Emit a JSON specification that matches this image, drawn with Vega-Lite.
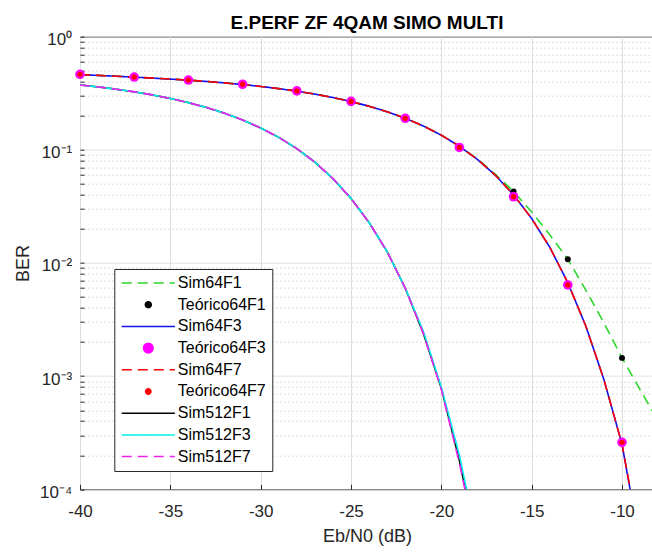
{
  "$schema": "https://vega.github.io/schema/vega-lite/v6.json",
  "autosize": {"type": "none"},
  "padding": {"left": 80, "top": 36.7, "right": 0, "bottom": 64},
  "width": 574,
  "height": 452.6,
  "title": {"text": "E.PERF ZF 4QAM SIMO MULTI", "fontSize": 19, "fontWeight": "bold", "font": "Liberation Sans", "color": "#000000", "anchor": "middle", "frame": "group", "baseline": "alphabetic", "offset": -17},
  "config": {
    "view": {"stroke": "#262626", "strokeWidth": 1},
    "legend": {"padding": 6, "fillColor": "#ffffff", "strokeColor": "#262626", "strokeWidth": 1, "rowPadding": 5.7, "labelFontSize": 16, "labelFont": "Liberation Sans", "labelColor": "#000000", "labelLimit": 0, "symbolOffset": 20, "labelOffset": 21.5, "symbolStrokeWidth": 1.5, "cornerRadius": 0}
  },
  "datasets": {
    "sims": [
      {"s": "Sim64F1", "x": -40, "y": 0.462}, {"s": "Sim64F1", "x": -39, "y": 0.455}, {"s": "Sim64F1", "x": -38, "y": 0.447}, {"s": "Sim64F1", "x": -37, "y": 0.439}, {"s": "Sim64F1", "x": -36, "y": 0.4305}, {"s": "Sim64F1", "x": -35, "y": 0.4221}, {"s": "Sim64F1", "x": -34, "y": 0.4128}, {"s": "Sim64F1", "x": -33, "y": 0.4023}, {"s": "Sim64F1", "x": -32, "y": 0.3907}, {"s": "Sim64F1", "x": -31, "y": 0.3778}, {"s": "Sim64F1", "x": -30, "y": 0.3634}, {"s": "Sim64F1", "x": -29, "y": 0.3476}, {"s": "Sim64F1", "x": -28, "y": 0.3301}, {"s": "Sim64F1", "x": -27, "y": 0.3109}, {"s": "Sim64F1", "x": -26, "y": 0.2899}, {"s": "Sim64F1", "x": -25, "y": 0.2673}, {"s": "Sim64F1", "x": -24, "y": 0.243}, {"s": "Sim64F1", "x": -23, "y": 0.2171}, {"s": "Sim64F1", "x": -22, "y": 0.1901}, {"s": "Sim64F1", "x": -21, "y": 0.1625}, {"s": "Sim64F1", "x": -20, "y": 0.1347}, {"s": "Sim64F1", "x": -19, "y": 0.1078}, {"s": "Sim64F1", "x": -18, "y": 0.083}, {"s": "Sim64F1", "x": -17, "y": 0.0606}, {"s": "Sim64F1", "x": -16, "y": 0.0429}, {"s": "Sim64F1", "x": -15, "y": 0.0282}, {"s": "Sim64F1", "x": -14, "y": 0.0178}, {"s": "Sim64F1", "x": -13, "y": 0.0108}, {"s": "Sim64F1", "x": -12, "y": 0.00575}, {"s": "Sim64F1", "x": -11, "y": 0.00295}, {"s": "Sim64F1", "x": -10, "y": 0.00145}, {"s": "Sim64F1", "x": -9, "y": 0.00076}, {"s": "Sim64F1", "x": -8, "y": 0.0004},
      {"s": "Sim64F3", "x": -40, "y": 0.462}, {"s": "Sim64F3", "x": -39, "y": 0.455}, {"s": "Sim64F3", "x": -38, "y": 0.447}, {"s": "Sim64F3", "x": -37, "y": 0.439}, {"s": "Sim64F3", "x": -36, "y": 0.4305}, {"s": "Sim64F3", "x": -35, "y": 0.4221}, {"s": "Sim64F3", "x": -34, "y": 0.4128}, {"s": "Sim64F3", "x": -33, "y": 0.4023}, {"s": "Sim64F3", "x": -32, "y": 0.3907}, {"s": "Sim64F3", "x": -31, "y": 0.3778}, {"s": "Sim64F3", "x": -30, "y": 0.3634}, {"s": "Sim64F3", "x": -29, "y": 0.3476}, {"s": "Sim64F3", "x": -28, "y": 0.3301}, {"s": "Sim64F3", "x": -27, "y": 0.3109}, {"s": "Sim64F3", "x": -26, "y": 0.2899}, {"s": "Sim64F3", "x": -25, "y": 0.2673}, {"s": "Sim64F3", "x": -24, "y": 0.243}, {"s": "Sim64F3", "x": -23, "y": 0.2171}, {"s": "Sim64F3", "x": -22, "y": 0.1901}, {"s": "Sim64F3", "x": -21, "y": 0.1625}, {"s": "Sim64F3", "x": -20, "y": 0.1347}, {"s": "Sim64F3", "x": -19, "y": 0.1076}, {"s": "Sim64F3", "x": -18, "y": 0.0822}, {"s": "Sim64F3", "x": -17, "y": 0.0594}, {"s": "Sim64F3", "x": -16, "y": 0.04}, {"s": "Sim64F3", "x": -15, "y": 0.0247}, {"s": "Sim64F3", "x": -14, "y": 0.0138}, {"s": "Sim64F3", "x": -13, "y": 0.0067}, {"s": "Sim64F3", "x": -12, "y": 0.00276}, {"s": "Sim64F3", "x": -11, "y": 0.00093}, {"s": "Sim64F3", "x": -10, "y": 0.00025}, {"s": "Sim64F3", "x": -9, "y": 0.000032},
      {"s": "Sim64F7", "x": -40, "y": 0.462}, {"s": "Sim64F7", "x": -39, "y": 0.455}, {"s": "Sim64F7", "x": -38, "y": 0.447}, {"s": "Sim64F7", "x": -37, "y": 0.439}, {"s": "Sim64F7", "x": -36, "y": 0.4305}, {"s": "Sim64F7", "x": -35, "y": 0.4221}, {"s": "Sim64F7", "x": -34, "y": 0.4128}, {"s": "Sim64F7", "x": -33, "y": 0.4023}, {"s": "Sim64F7", "x": -32, "y": 0.3907}, {"s": "Sim64F7", "x": -31, "y": 0.3778}, {"s": "Sim64F7", "x": -30, "y": 0.3634}, {"s": "Sim64F7", "x": -29, "y": 0.3476}, {"s": "Sim64F7", "x": -28, "y": 0.3301}, {"s": "Sim64F7", "x": -27, "y": 0.3109}, {"s": "Sim64F7", "x": -26, "y": 0.2899}, {"s": "Sim64F7", "x": -25, "y": 0.2673}, {"s": "Sim64F7", "x": -24, "y": 0.243}, {"s": "Sim64F7", "x": -23, "y": 0.2171}, {"s": "Sim64F7", "x": -22, "y": 0.1901}, {"s": "Sim64F7", "x": -21, "y": 0.1625}, {"s": "Sim64F7", "x": -20, "y": 0.1347}, {"s": "Sim64F7", "x": -19, "y": 0.1076}, {"s": "Sim64F7", "x": -18, "y": 0.0822}, {"s": "Sim64F7", "x": -17, "y": 0.0594}, {"s": "Sim64F7", "x": -16, "y": 0.04}, {"s": "Sim64F7", "x": -15, "y": 0.0247}, {"s": "Sim64F7", "x": -14, "y": 0.0138}, {"s": "Sim64F7", "x": -13, "y": 0.0067}, {"s": "Sim64F7", "x": -12, "y": 0.00276}, {"s": "Sim64F7", "x": -11, "y": 0.00093}, {"s": "Sim64F7", "x": -10, "y": 0.00025}, {"s": "Sim64F7", "x": -9, "y": 0.000034},
      {"s": "Sim512F1", "x": -40, "y": 0.3745}, {"s": "Sim512F1", "x": -39, "y": 0.3598}, {"s": "Sim512F1", "x": -38, "y": 0.3435}, {"s": "Sim512F1", "x": -37, "y": 0.3256}, {"s": "Sim512F1", "x": -36, "y": 0.306}, {"s": "Sim512F1", "x": -35, "y": 0.2847}, {"s": "Sim512F1", "x": -34, "y": 0.2616}, {"s": "Sim512F1", "x": -33, "y": 0.2369}, {"s": "Sim512F1", "x": -32, "y": 0.2108}, {"s": "Sim512F1", "x": -31, "y": 0.1836}, {"s": "Sim512F1", "x": -30, "y": 0.156}, {"s": "Sim512F1", "x": -29, "y": 0.129}, {"s": "Sim512F1", "x": -28, "y": 0.1025}, {"s": "Sim512F1", "x": -27, "y": 0.0778}, {"s": "Sim512F1", "x": -26, "y": 0.0557}, {"s": "Sim512F1", "x": -25, "y": 0.0372}, {"s": "Sim512F1", "x": -24, "y": 0.0228}, {"s": "Sim512F1", "x": -23, "y": 0.0126}, {"s": "Sim512F1", "x": -22, "y": 0.006}, {"s": "Sim512F1", "x": -21, "y": 0.0024}, {"s": "Sim512F1", "x": -20, "y": 0.00078}, {"s": "Sim512F1", "x": -19, "y": 0.00018}, {"s": "Sim512F1", "x": -18, "y": 0.00003},
      {"s": "Sim512F3", "x": -40, "y": 0.3745}, {"s": "Sim512F3", "x": -39, "y": 0.3598}, {"s": "Sim512F3", "x": -38, "y": 0.3435}, {"s": "Sim512F3", "x": -37, "y": 0.3256}, {"s": "Sim512F3", "x": -36, "y": 0.306}, {"s": "Sim512F3", "x": -35, "y": 0.2847}, {"s": "Sim512F3", "x": -34, "y": 0.2616}, {"s": "Sim512F3", "x": -33, "y": 0.2369}, {"s": "Sim512F3", "x": -32, "y": 0.2108}, {"s": "Sim512F3", "x": -31, "y": 0.1836}, {"s": "Sim512F3", "x": -30, "y": 0.156}, {"s": "Sim512F3", "x": -29, "y": 0.129}, {"s": "Sim512F3", "x": -28, "y": 0.1025}, {"s": "Sim512F3", "x": -27, "y": 0.0778}, {"s": "Sim512F3", "x": -26, "y": 0.0557}, {"s": "Sim512F3", "x": -25, "y": 0.0372}, {"s": "Sim512F3", "x": -24, "y": 0.0228}, {"s": "Sim512F3", "x": -23, "y": 0.0126}, {"s": "Sim512F3", "x": -22, "y": 0.006}, {"s": "Sim512F3", "x": -21, "y": 0.0025}, {"s": "Sim512F3", "x": -20, "y": 0.0008}, {"s": "Sim512F3", "x": -19, "y": 0.0002}, {"s": "Sim512F3", "x": -18, "y": 0.000035},
      {"s": "Sim512F7", "x": -40, "y": 0.3745}, {"s": "Sim512F7", "x": -39, "y": 0.3598}, {"s": "Sim512F7", "x": -38, "y": 0.3435}, {"s": "Sim512F7", "x": -37, "y": 0.3256}, {"s": "Sim512F7", "x": -36, "y": 0.306}, {"s": "Sim512F7", "x": -35, "y": 0.2847}, {"s": "Sim512F7", "x": -34, "y": 0.2616}, {"s": "Sim512F7", "x": -33, "y": 0.2369}, {"s": "Sim512F7", "x": -32, "y": 0.2108}, {"s": "Sim512F7", "x": -31, "y": 0.1836}, {"s": "Sim512F7", "x": -30, "y": 0.156}, {"s": "Sim512F7", "x": -29, "y": 0.129}, {"s": "Sim512F7", "x": -28, "y": 0.1025}, {"s": "Sim512F7", "x": -27, "y": 0.0778}, {"s": "Sim512F7", "x": -26, "y": 0.0557}, {"s": "Sim512F7", "x": -25, "y": 0.0372}, {"s": "Sim512F7", "x": -24, "y": 0.0228}, {"s": "Sim512F7", "x": -23, "y": 0.0126}, {"s": "Sim512F7", "x": -22, "y": 0.006}, {"s": "Sim512F7", "x": -21, "y": 0.0024}, {"s": "Sim512F7", "x": -20, "y": 0.00076}, {"s": "Sim512F7", "x": -19, "y": 0.00017}, {"s": "Sim512F7", "x": -18, "y": 0.00003}
    ],
    "teo": [
      {"s": "Teórico64F1", "x": -40, "y": 0.465}, {"s": "Teórico64F1", "x": -37, "y": 0.44}, {"s": "Teórico64F1", "x": -34, "y": 0.414}, {"s": "Teórico64F1", "x": -31, "y": 0.38}, {"s": "Teórico64F1", "x": -28, "y": 0.332}, {"s": "Teórico64F1", "x": -25, "y": 0.268}, {"s": "Teórico64F1", "x": -22, "y": 0.19}, {"s": "Teórico64F1", "x": -19, "y": 0.106}, {"s": "Teórico64F1", "x": -16, "y": 0.0429}, {"s": "Teórico64F1", "x": -13, "y": 0.0108}, {"s": "Teórico64F1", "x": -10, "y": 0.00145},
      {"s": "Teórico64F3", "x": -40, "y": 0.465}, {"s": "Teórico64F3", "x": -37, "y": 0.44}, {"s": "Teórico64F3", "x": -34, "y": 0.414}, {"s": "Teórico64F3", "x": -31, "y": 0.38}, {"s": "Teórico64F3", "x": -28, "y": 0.332}, {"s": "Teórico64F3", "x": -25, "y": 0.268}, {"s": "Teórico64F3", "x": -22, "y": 0.19}, {"s": "Teórico64F3", "x": -19, "y": 0.105}, {"s": "Teórico64F3", "x": -16, "y": 0.0385}, {"s": "Teórico64F3", "x": -13, "y": 0.0064}, {"s": "Teórico64F3", "x": -10, "y": 0.00026},
      {"s": "Teórico64F7", "x": -40, "y": 0.465}, {"s": "Teórico64F7", "x": -37, "y": 0.44}, {"s": "Teórico64F7", "x": -34, "y": 0.414}, {"s": "Teórico64F7", "x": -31, "y": 0.38}, {"s": "Teórico64F7", "x": -28, "y": 0.332}, {"s": "Teórico64F7", "x": -25, "y": 0.268}, {"s": "Teórico64F7", "x": -22, "y": 0.19}, {"s": "Teórico64F7", "x": -19, "y": 0.105}, {"s": "Teórico64F7", "x": -16, "y": 0.0385}, {"s": "Teórico64F7", "x": -13, "y": 0.0064}, {"s": "Teórico64F7", "x": -10, "y": 0.00026}
    ]
  },
  "layer": [
    {
      "data": {"name": "sims"},
      "mark": {"type": "line", "strokeWidth": 1.6, "clip": true},
      "encoding": {
        "x": {"field": "x", "type": "quantitative", "scale": {"domain": [-40, -8.23], "nice": false, "zero": false},
          "axis": {"values": [-40, -35, -30, -25, -20, -15, -10], "grid": true, "gridColor": "#dedede", "gridWidth": 1, "domain": false, "ticks": true, "tickSize": -5, "tickColor": "#262626", "labelPadding": 19, "labelFontSize": 17, "labelFont": "Liberation Sans", "labelColor": "#262626", "labelFlush": false, "labelOverlap": false, "labelExpr": "'' + datum.value", "title": "Eb/N0 (dB)", "titleFontSize": 18, "titleFont": "Liberation Sans", "titleFontWeight": "normal", "titleColor": "#262626", "titleX": 287, "titleY": 47, "titleBaseline": "middle", "titleAlign": "center"}},
        "y": {"field": "y", "type": "quantitative", "scale": {"type": "log", "domain": [0.0001, 1], "nice": false},
          "axis": {"values": [0.0001, 0.0002, 0.0003, 0.0004, 0.0005, 0.0006, 0.0007, 0.0008, 0.0009, 0.001, 0.002, 0.003, 0.004, 0.005, 0.006, 0.007, 0.008, 0.009, 0.01, 0.02, 0.03, 0.04, 0.05, 0.06, 0.07, 0.08, 0.09, 0.1, 0.2, 0.3, 0.4, 0.5, 0.6, 0.7, 0.8, 0.9, 1],
            "grid": true,
            "gridColor": {"condition": {"test": "indexof([0.0001, 0.001, 0.01, 0.1, 1], datum.value) >= 0", "value": "#dedede"}, "value": "#bdbdbd"},
            "gridDash": {"condition": {"test": "indexof([0.0001, 0.001, 0.01, 0.1, 1], datum.value) >= 0", "value": [1, 0]}, "value": [1, 3]},
            "domain": false, "tickSize": -4, "tickColor": "#262626", "labelPadding": 12.3, "labelOffset": 3,
            "labelExpr": "datum.value == 1 ? '10⁰' : datum.value == 0.1 ? '10⁻¹' : datum.value == 0.01 ? '10⁻²' : datum.value == 0.001 ? '10⁻³' : datum.value == 0.0001 ? '10⁻⁴' : ''",
            "labelFontSize": 17, "labelFont": "Liberation Sans", "labelColor": "#262626", "labelFlush": false, "labelOverlap": false,
            "title": "BER", "titleFontSize": 18, "titleFont": "Liberation Sans", "titleFontWeight": "normal", "titleColor": "#262626", "titleX": -57, "titleY": 226.3, "titleBaseline": "middle", "titleAlign": "center", "titleAngle": -90}},
        "color": {"field": "s", "type": "nominal",
          "scale": {"domain": ["Sim64F1", "Teórico64F1", "Sim64F3", "Teórico64F3", "Sim64F7", "Teórico64F7", "Sim512F1", "Sim512F3", "Sim512F7"], "range": ["#2bd82b", "#000000", "#1010ee", "#ff00ff", "#ff0000", "#ff0000", "#000000", "#00f0f0", "#ee22ee"]},
          "legend": {"title": null, "orient": "none", "legendX": 34.3, "legendY": 232.3, "direction": "vertical"}},
        "strokeDash": {"field": "s", "type": "nominal",
          "scale": {"domain": ["Sim64F1", "Teórico64F1", "Sim64F3", "Teórico64F3", "Sim64F7", "Teórico64F7", "Sim512F1", "Sim512F3", "Sim512F7"], "range": [[10, 6], [1, 0], [1, 0], [1, 0], [10, 6], [1, 0], [1, 0], [1, 0], [10, 6]]},
          "legend": {"title": null, "orient": "none", "legendX": 34.3, "legendY": 232.3, "direction": "vertical"}}
      }
    },
    {
      "data": {"name": "teo"},
      "mark": {"type": "point", "filled": true, "opacity": 1},
      "encoding": {
        "x": {"field": "x", "type": "quantitative"},
        "y": {"field": "y", "type": "quantitative"},
        "fill": {"field": "s", "type": "nominal",
          "scale": {"domain": ["Sim64F1", "Teórico64F1", "Sim64F3", "Teórico64F3", "Sim64F7", "Teórico64F7", "Sim512F1", "Sim512F3", "Sim512F7"], "range": ["#2bd82b", "#000000", "#1010ee", "#ff00ff", "#ff0000", "#ff0000", "#000000", "#00f0f0", "#ee22ee"]},
          "legend": {"title": null, "orient": "none", "legendX": 34.3, "legendY": 232.3, "direction": "vertical"}},
        "shape": {"field": "s", "type": "nominal",
          "scale": {"domain": ["Sim64F1", "Teórico64F1", "Sim64F3", "Teórico64F3", "Sim64F7", "Teórico64F7", "Sim512F1", "Sim512F3", "Sim512F7"], "range": ["M-5,0H5", "circle", "M-5,0H5", "circle", "M-5,0H5", "circle", "M-5,0H5", "M-5,0H5", "M-5,0H5"]},
          "legend": {"title": null, "orient": "none", "legendX": 34.3, "legendY": 232.3, "direction": "vertical"}},
        "size": {"field": "s", "type": "nominal",
          "scale": {"type": "ordinal", "domain": ["Sim64F1", "Teórico64F1", "Sim64F3", "Teórico64F3", "Sim64F7", "Teórico64F7", "Sim512F1", "Sim512F3", "Sim512F7"], "range": [113, 35, 113, 92, 113, 28, 113, 113, 113]},
          "legend": {"title": null, "orient": "none", "legendX": 34.3, "legendY": 232.3, "direction": "vertical"}}
      }
    }
  ]
}
